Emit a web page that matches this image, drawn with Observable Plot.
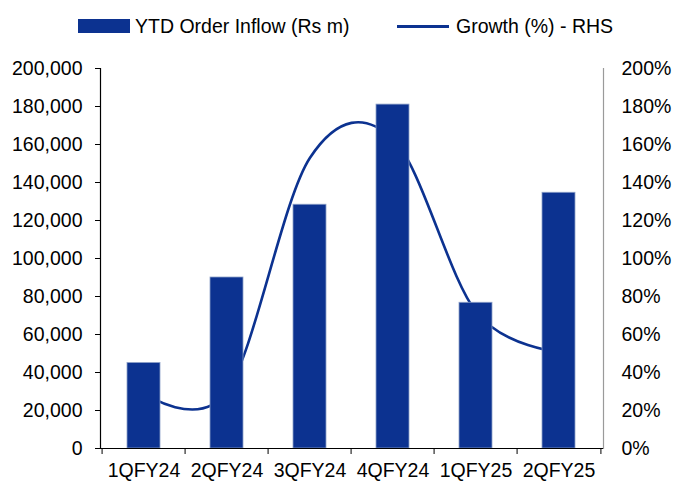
<!DOCTYPE html>
<html>
<head>
<meta charset="utf-8">
<script src="https://cdn.jsdelivr.net/npm/d3@7"></script>
<script src="https://cdn.jsdelivr.net/npm/@observablehq/plot@0.6"></script>
<style>
  body { margin: 0; background: #fff; font-family: "Liberation Sans", Arial, sans-serif; }
  #legend { position: relative; width: 674px; height: 45px; font-size: 19.5px; color: #000; }
  #legend .sw-bar { position: absolute; left: 78px; top: 19px; width: 52px; height: 14px; background: #0c3290; }
  #legend .sw-line { position: absolute; left: 397px; top: 25px; width: 52px; height: 2.5px; background: #0c3290; }
  #legend .t { position: absolute; top: 14px; line-height: 24px; white-space: nowrap; }
</style>
</head>
<body>
<div id="legend">
  <div class="sw-bar"></div><div class="t" style="left:135px">YTD Order Inflow (Rs m)</div>
  <div class="sw-line"></div><div class="t" style="left:456px">Growth (%) - RHS</div>
</div>
<div id="chart"></div>
<script>
const categories = ["1QFY24", "2QFY24", "3QFY24", "4QFY24", "1QFY25", "2QFY25"];
const orderInflow = [45000, 90000, 128300, 181000, 76700, 134600];
const growthPct = [29, 30, 153, 163, 72, 51];
const leftTicks = [0, 20000, 40000, 60000, 80000, 100000, 120000, 140000, 160000, 180000, 200000];
const rightTicks = [0, 20, 40, 60, 80, 100, 120, 140, 160, 180, 200];

const color = "#0c3290";
const width = 674, height = 439, mL = 100, mR = 71, mT = 23, mB = 36;
const step = (width - mL - mR) / categories.length;
const rightFactor = 200000 / 200; // % -> left-axis units

const bars = categories.map((c, i) => ({cat: c, value: orderInflow[i]}));
const growth = categories.map((c, i) => ({cat: c, g: growthPct[i] * rightFactor}));

const chart = Plot.plot({
  width, height,
  marginLeft: mL, marginRight: mR, marginTop: mT, marginBottom: mB,
  style: {fontFamily: "'Liberation Sans', Arial, sans-serif", fontSize: "19.5px", color: "#000", background: "#fff"},
  x: {domain: categories, paddingInner: 0.6, paddingOuter: 0.3, axis: null, label: null},
  y: {domain: [0, 200000], axis: null, label: null},
  marks: [
    Plot.line(growth, {x: "cat", y: "g", stroke: color, strokeWidth: 2.6, curve: "cardinal"}),
    Plot.barY(bars, {x: "cat", y: "value", fill: color, stroke: "#8da0c8", strokeWidth: 0.8}),
    Plot.axisY({anchor: "left", label: null, ticks: leftTicks, tickSize: 5, tickPadding: 13, tickFormat: d3.format(","), stroke: "#000", fill: "#000"}),
    Plot.axisY({anchor: "right", label: null, ticks: rightTicks.map(d => d * rightFactor), tickSize: 0, tickPadding: 18, tickFormat: d => (d / rightFactor) + "%", textAnchor: "start", fill: "#000"}),
    Plot.axisX({anchor: "bottom", label: null, ticks: categories, tickSize: 6, tickFormat: () => "", dx: -step / 2, stroke: "#000"}),
    Plot.axisX({anchor: "bottom", label: null, ticks: [categories[categories.length - 1]], tickSize: 6, tickFormat: () => "", dx: step / 2, stroke: "#000"}),
    Plot.axisX({anchor: "bottom", label: null, ticks: categories, tickSize: 0, tickPadding: 15, fill: "#000"}),
    Plot.frame({anchor: "right", stroke: "#9a9a9a", strokeWidth: 1.2}),
    Plot.frame({anchor: "left", stroke: "#000", strokeWidth: 1.2}),
    Plot.ruleY([0], {stroke: "#000", strokeWidth: 1.2})
  ]
});
document.getElementById("chart").appendChild(chart);
</script>
</body>
</html>
